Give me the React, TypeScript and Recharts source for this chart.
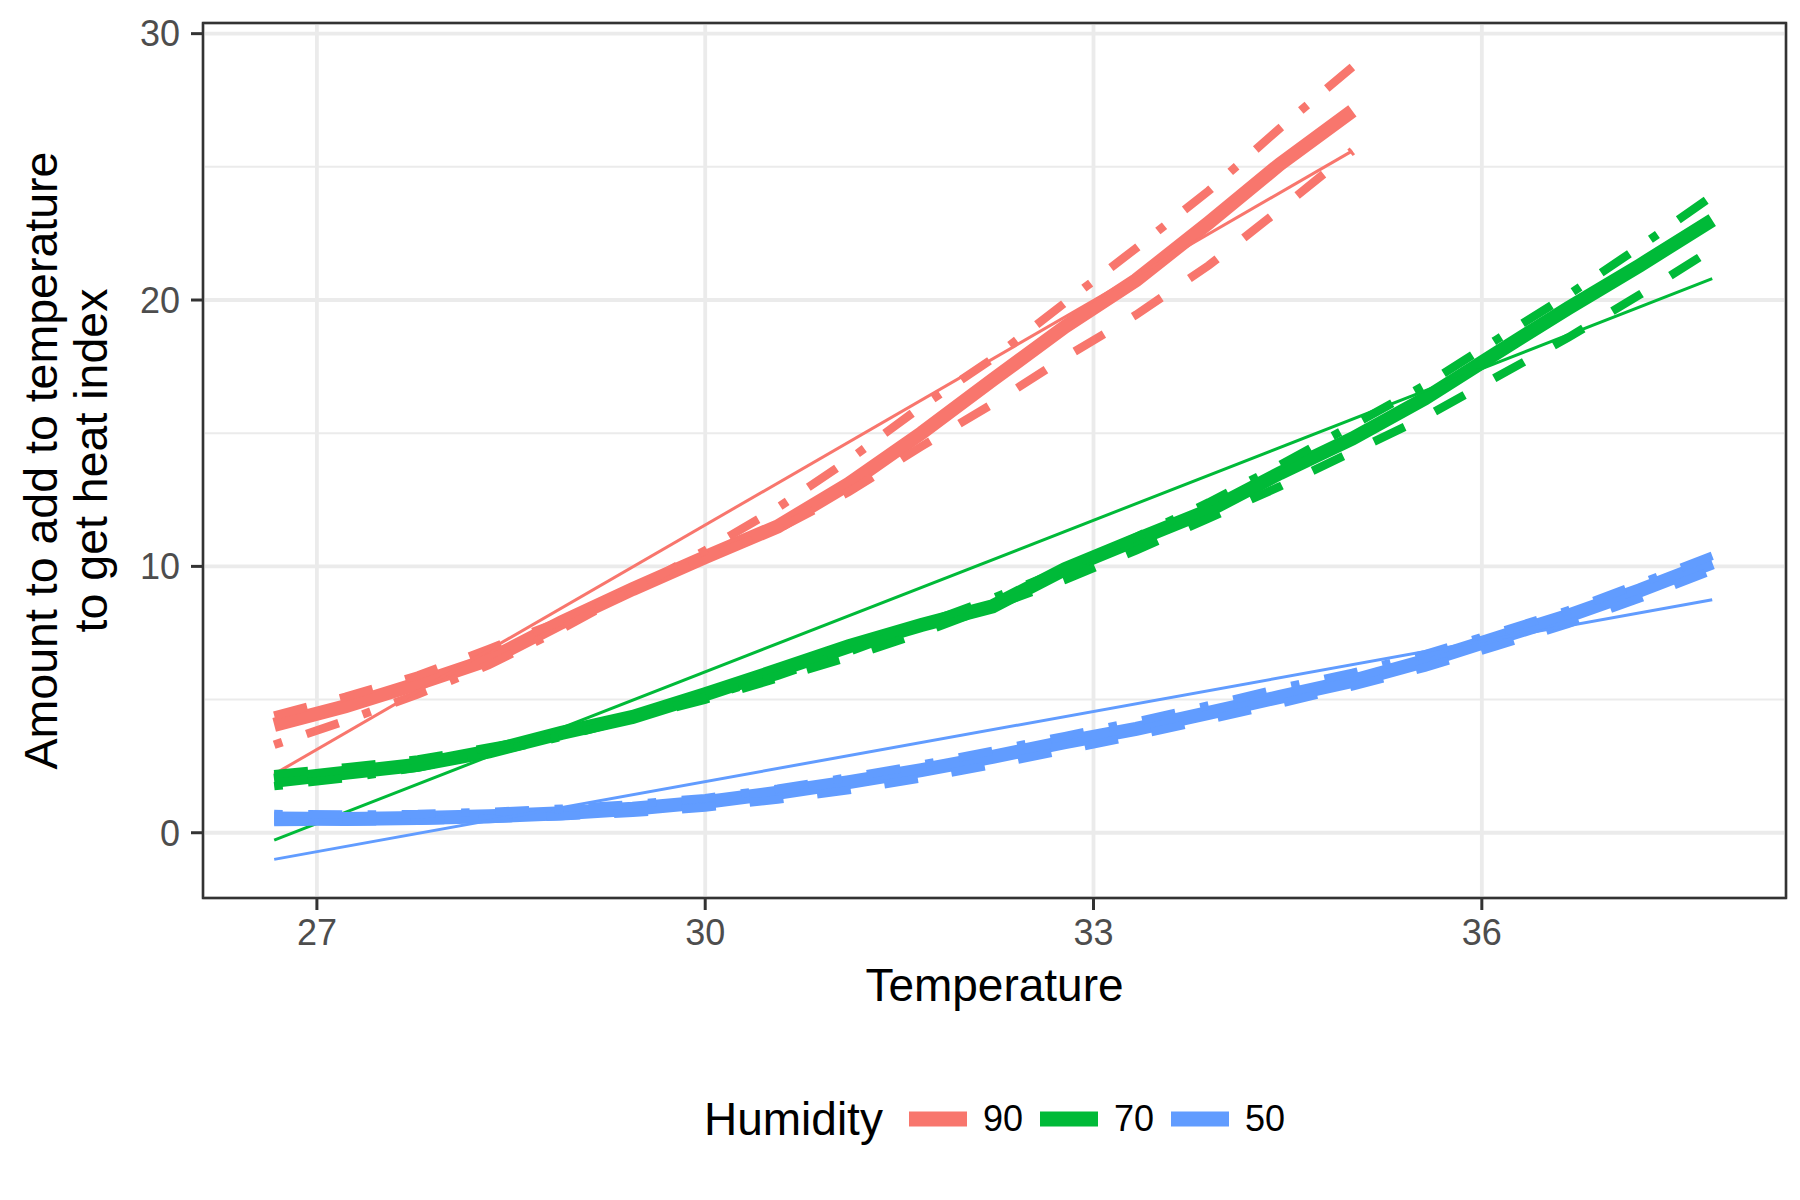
import React from "react";
import {
    LineChart,
    Line,
    XAxis,
    YAxis,
    CartesianGrid,
    Legend,
    ReferenceArea,
} from "recharts";

const FONT = "'Liberation Sans', Arial, sans-serif";

// temperatures in °C (80°F .. 100°F, 1°F steps)
const TEMPS = [
    26.67, 27.22, 27.78, 28.33, 28.89, 29.44, 30.0, 30.56, 31.11, 31.67, 32.22,
    32.78, 33.33, 33.89, 34.44, 35.0, 35.56, 36.11, 36.67, 37.22, 37.78,
];
// 90% humidity only goes up to 35°C
const TEMPS_90 = TEMPS.slice(0, 16);

const HUMIDITY = ["90", "70", "50"];
const COLORS = ["#F8766D", "#00BA38", "#619CFF"];

// table values (thick solid)
const TABLE_90 = [4.05, 4.75, 5.6, 6.5, 7.9, 9.15, 10.35, 11.5, 13.1, 15.0, 17.0, 19.0, 20.75, 22.9, 25.1, 27.1];
const TABLE_70 = [1.95, 2.25, 2.55, 3.05, 3.75, 4.35, 5.2, 6.1, 7.0, 7.8, 8.5, 9.9, 11.0, 12.1, 13.5, 14.8, 16.3, 18.0, 19.7, 21.3, 23.0];
const TABLE_50 = [0.53, 0.52, 0.55, 0.62, 0.73, 0.9, 1.15, 1.5, 1.9, 2.35, 2.85, 3.4, 3.9, 4.5, 5.1, 5.7, 6.45, 7.3, 8.15, 9.1, 10.15];

// first approximation (dashed)
const DASHED_90 = [4.4, 5.1, 5.9, 6.9, 7.95, 9.1, 10.3, 11.4, 12.8, 14.5, 16.1, 17.85, 19.45, 21.3, 23.4, 25.6];
const DASHED_70 = [2.2, 2.45, 2.75, 3.2, 3.7, 4.3, 5.0, 5.8, 6.6, 7.5, 8.5, 9.5, 10.6, 11.8, 13.0, 14.3, 15.6, 17.1, 18.6, 20.2, 21.9];
const DASHED_50 = [0.4, 0.42, 0.45, 0.52, 0.62, 0.75, 0.95, 1.25, 1.6, 2.05, 2.55, 3.1, 3.65, 4.25, 4.85, 5.5, 6.2, 7.0, 7.85, 8.8, 9.85];

// second approximation (dot-dash)
const DOTDASH_90 = [3.3, 4.2, 5.2, 6.3, 7.65, 9.1, 10.6, 12.2, 14.0, 16.0, 17.8, 19.9, 21.95, 24.1, 26.45, 28.75];
const DOTDASH_70 = [1.75, 2.05, 2.45, 3.0, 3.6, 4.3, 5.1, 5.9, 6.8, 7.8, 8.8, 9.9, 11.1, 12.4, 13.8, 15.3, 16.8, 18.5, 20.2, 22.0, 23.9];
const DOTDASH_50 = [0.7, 0.68, 0.7, 0.78, 0.9, 1.07, 1.3, 1.65, 2.08, 2.55, 3.07, 3.63, 4.17, 4.78, 5.42, 6.0, 6.7, 7.5, 8.35, 9.35, 10.4];

// linear fits (thin solid), end points
const LINEAR_X_90 = [26.67, 35.0];
const LINEAR_90 = [2.2, 25.6];
const LINEAR_X = [26.67, 37.78];
const LINEAR_70 = [-0.28, 20.8];
const LINEAR_50 = [-1.0, 8.75];

const X_DOMAIN: [number, number] = [26.12, 38.35];
const Y_DOMAIN: [number, number] = [-2.45, 30.4];
const X_TICKS = [27, 30, 33, 36];
const X_MINOR = [28.5, 31.5, 34.5, 37.5];
const Y_TICKS = [0, 10, 20, 30];
const Y_MINOR = [5, 15, 25];

const toPoints = (xs: number[], ys: number[]) => xs.map((x, i) => ({ x, y: ys[i] }));

const GROUPS = [
    { temps: TEMPS_90, table: TABLE_90, dashed: DASHED_90, dotdash: DOTDASH_90, linX: LINEAR_X_90, lin: LINEAR_90 },
    { temps: TEMPS, table: TABLE_70, dashed: DASHED_70, dotdash: DOTDASH_70, linX: LINEAR_X, lin: LINEAR_70 },
    { temps: TEMPS, table: TABLE_50, dashed: DASHED_50, dotdash: DOTDASH_50, linX: LINEAR_X, lin: LINEAR_50 },
];

function YTitle(props: any) {
    const vb = props.viewBox ?? { x: 0, y: 23, width: 203, height: 875 };
    const cy = vb.y + vb.height / 2;
    const x1 = vb.x + 57;
    const x2 = vb.x + 107;
    return (
        <g>
            <text x={x1} y={cy} transform={`rotate(-90, ${x1}, ${cy})`} textAnchor="middle" fontSize={46.5} fill="#000000">
                Amount to add to temperature
            </text>
            <text x={x2} y={cy} transform={`rotate(-90, ${x2}, ${cy})`} textAnchor="middle" fontSize={46.5} fill="#000000">
                to get heat index
            </text>
        </g>
    );
}

function HumidityLegend() {
    return (
        <div style={{ display: "flex", alignItems: "center", justifyContent: "center", height: 60, fontFamily: FONT, color: "#000" }}>
            <span style={{ fontSize: 46, marginRight: 26 }}>Humidity</span>
            {HUMIDITY.map((h, i) => (
                <span key={h} style={{ display: "flex", alignItems: "center", marginRight: i < HUMIDITY.length - 1 ? 17 : 0 }}>
                    <svg width={58} height={16} style={{ display: "block" }}>
                        <line x1={0} y1={8} x2={58} y2={8} stroke={COLORS[i]} strokeWidth={15} />
                    </svg>
                    <span style={{ fontSize: 36, marginLeft: 16 }}>{h}</span>
                </span>
            ))}
        </div>
    );
}

export default function App() {
    return (
        <div style={{ position: "absolute", left: 0, top: 0, width: 1800, height: 1200, background: "#fff", fontFamily: FONT }}>
            <LineChart width={1800} height={1200} margin={{ top: 23, right: 14, left: 0, bottom: 182 }}>
                <XAxis
                    type="number"
                    dataKey="x"
                    domain={X_DOMAIN}
                    ticks={X_TICKS}
                    interval={0}
                    allowDataOverflow
                    height={120}
                    tickSize={12}
                    tickMargin={9}
                    axisLine={false}
                    tickLine={{ stroke: "#333333", strokeWidth: 3 }}
                    tick={{ fill: "#4D4D4D", fontSize: 36, fontFamily: FONT }}
                    label={{ value: "Temperature", position: "insideBottom", offset: 17, fill: "#000000", fontSize: 46, fontFamily: FONT }}
                />
                <YAxis
                    type="number"
                    domain={Y_DOMAIN}
                    ticks={Y_TICKS}
                    interval={0}
                    allowDataOverflow
                    width={203}
                    tickSize={12}
                    tickMargin={11}
                    axisLine={false}
                    tickLine={{ stroke: "#333333", strokeWidth: 3 }}
                    tick={{ fill: "#4D4D4D", fontSize: 36, fontFamily: FONT }}
                    label={(p: any) => <YTitle {...p} />}
                />
                <XAxis xAxisId="minor" type="number" domain={X_DOMAIN} ticks={X_MINOR} allowDataOverflow hide />
                <YAxis yAxisId="minor" type="number" domain={Y_DOMAIN} ticks={Y_MINOR} allowDataOverflow hide />
                <CartesianGrid xAxisId="minor" yAxisId="minor" stroke="#EBEBEB" strokeWidth={2} />
                <CartesianGrid stroke="#EBEBEB" strokeWidth={3.8} />

                {GROUPS.map((g, i) => [
                    <Line
                        key={`table-${i}`}
                        data={toPoints(g.temps, g.table)}
                        dataKey="y"
                        type="linear"
                        stroke={COLORS[i]}
                        strokeWidth={14}
                        dot={false}
                        activeDot={false}
                        isAnimationActive={false}
                    />,
                    <Line
                        key={`dashed-${i}`}
                        data={toPoints(g.temps, g.dashed)}
                        dataKey="y"
                        type="linear"
                        stroke={COLORS[i]}
                        strokeWidth={8.5}
                        strokeDasharray="34 34"
                        dot={false}
                        activeDot={false}
                        isAnimationActive={false}
                    />,
                    <Line
                        key={`dotdash-${i}`}
                        data={toPoints(g.temps, g.dotdash)}
                        dataKey="y"
                        type="linear"
                        stroke={COLORS[i]}
                        strokeWidth={8.5}
                        strokeDasharray="8.5 25.5 34 25.5"
                        dot={false}
                        activeDot={false}
                        isAnimationActive={false}
                    />,
                    <Line
                        key={`linear-${i}`}
                        data={toPoints(g.linX, g.lin)}
                        dataKey="y"
                        type="linear"
                        stroke={COLORS[i]}
                        strokeWidth={3}
                        dot={false}
                        activeDot={false}
                        isAnimationActive={false}
                    />,
                ])}

                <ReferenceArea
                    x1={X_DOMAIN[0]}
                    x2={X_DOMAIN[1]}
                    y1={Y_DOMAIN[0]}
                    y2={Y_DOMAIN[1]}
                    fill="none"
                    fillOpacity={0}
                    stroke="#333333"
                    strokeWidth={2.5}
                />
                <Legend
                    layout="horizontal"
                    verticalAlign="middle"
                    align="center"
                    wrapperStyle={{ top: 1089, left: 203, width: 1583 }}
                    content={() => <HumidityLegend />}
                />
            </LineChart>
        </div>
    );
}
